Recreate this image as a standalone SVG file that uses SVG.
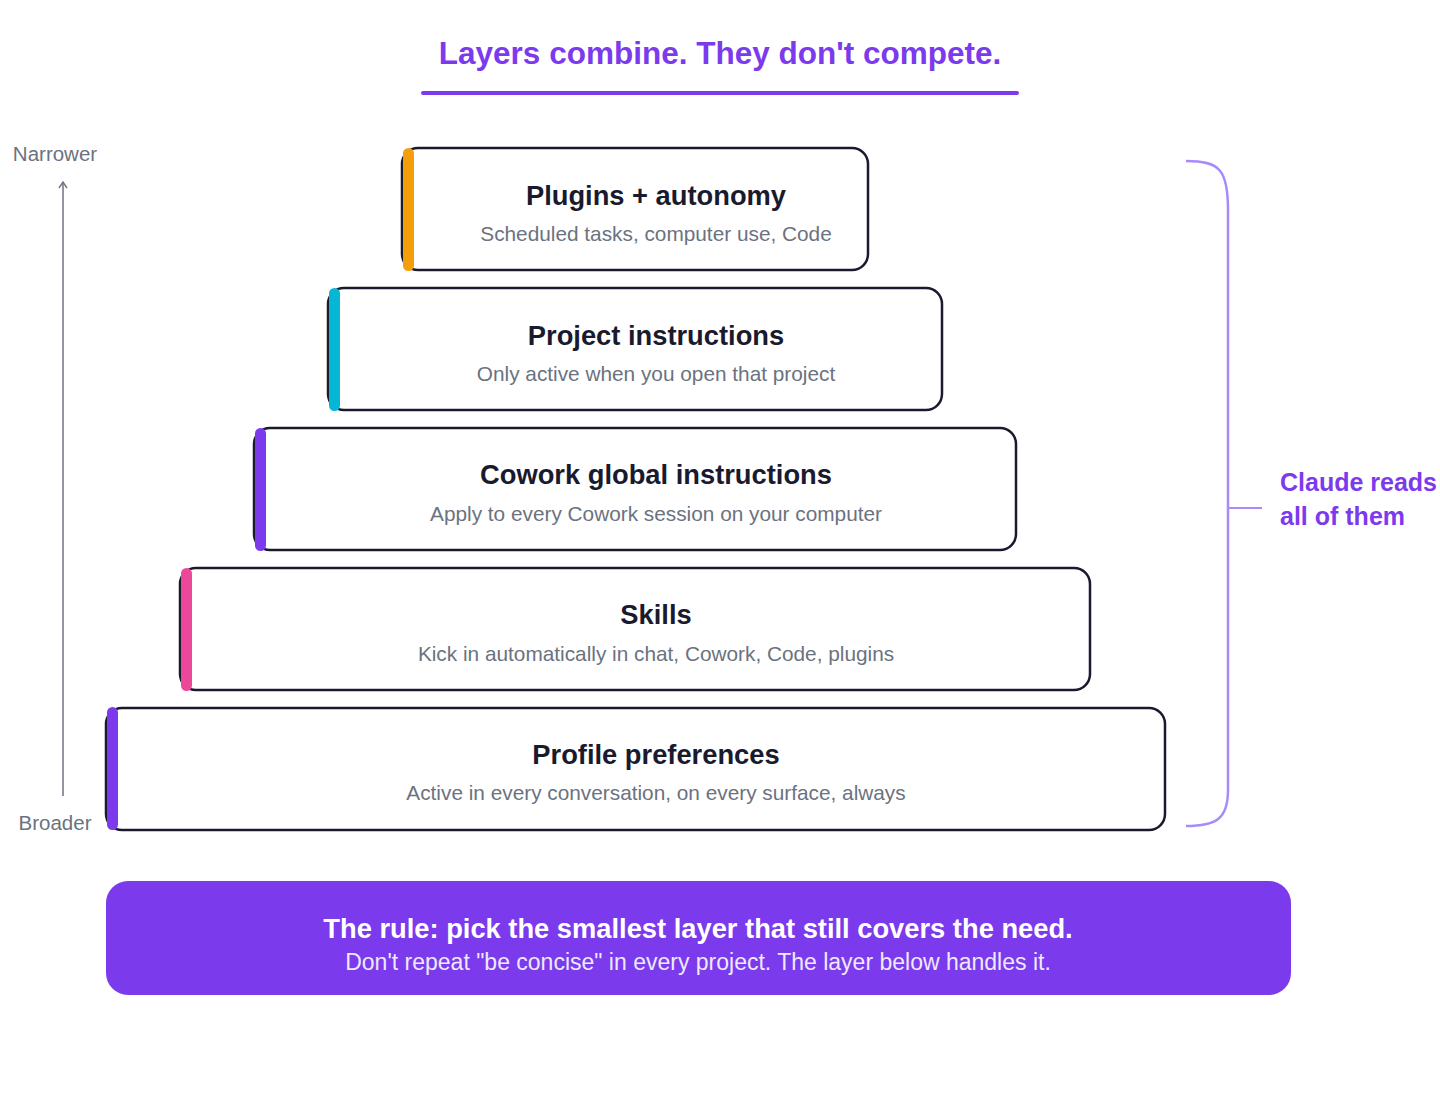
<svg xmlns="http://www.w3.org/2000/svg" width="1440" height="1102" viewBox="0 0 1440 1102">
<style>
.box{fill:#ffffff;stroke:#1a1a2e;stroke-width:2.5}
.t{font-family:"Liberation Sans",Arial,sans-serif;font-weight:bold;font-size:27.3px;fill:#1a1a2e;text-anchor:middle}
.s{font-family:"Liberation Sans",Arial,sans-serif;font-size:20.8px;fill:#6b7280;text-anchor:middle}
.ax{font-family:"Liberation Sans",Arial,sans-serif;font-size:20.5px;fill:#6b7280;text-anchor:middle}
.pl{font-family:"Liberation Sans",Arial,sans-serif;font-weight:bold;font-size:25px;fill:#7c3aed}
</style>
<rect width="1440" height="1102" fill="#ffffff"/>
<g id="title">
<text x="720" y="64" font-family="'Liberation Sans',Arial,sans-serif" font-weight="bold" font-size="31.5" fill="#7c3aed" text-anchor="middle">Layers combine. They don't compete.</text>
<line x1="423" y1="93" x2="1017" y2="93" stroke="#7c3aed" stroke-width="4" stroke-linecap="round"/>
</g>
<g id="connectors">
<line x1="63" y1="796" x2="63" y2="182" stroke="#6b7280" stroke-width="1.5"/>
<path d="M59,188 L63,182 L67,188" fill="none" stroke="#6b7280" stroke-width="1.4"/>
<path d="M1186,161 C1220,161 1228,170 1228,210 L1228,790 C1228,820 1215,826 1186,826" fill="none" stroke="#a78bfa" stroke-width="2.5"/>
<line x1="1228" y1="508" x2="1262" y2="508" stroke="#a78bfa" stroke-width="2"/>
</g>
<g id="axis-labels">
<text class="ax" x="55" y="161">Narrower</text>
<text class="ax" x="55" y="830">Broader</text>
</g>
<g id="layer-plugins">
<rect class="box" x="402" y="148" width="466" height="122" rx="16"/>
<rect x="403" y="148" width="11" height="123" rx="5.5" fill="#f59e0b"/>
<text class="t" x="656" y="205">Plugins + autonomy</text>
<text class="s" x="656" y="241">Scheduled tasks, computer use, Code</text>
</g>
<g id="layer-project">
<rect class="box" x="328" y="288" width="614" height="122" rx="16"/>
<rect x="329" y="288" width="11" height="123" rx="5.5" fill="#06b6d4"/>
<text class="t" x="656" y="345">Project instructions</text>
<text class="s" x="656" y="381">Only active when you open that project</text>
</g>
<g id="layer-cowork">
<rect class="box" x="254" y="428" width="762" height="122" rx="16"/>
<rect x="255" y="428" width="11" height="123" rx="5.5" fill="#7c3aed"/>
<text class="t" x="656" y="484">Cowork global instructions</text>
<text class="s" x="656" y="521">Apply to every Cowork session on your computer</text>
</g>
<g id="layer-skills">
<rect class="box" x="180" y="568" width="910" height="122" rx="16"/>
<rect x="181" y="568" width="11" height="123" rx="5.5" fill="#ec4899"/>
<text class="t" x="656" y="624">Skills</text>
<text class="s" x="656" y="661">Kick in automatically in chat, Cowork, Code, plugins</text>
</g>
<g id="layer-profile">
<rect class="box" x="106" y="708" width="1059" height="122" rx="16"/>
<rect x="107" y="707" width="11" height="123" rx="5.5" fill="#7c3aed"/>
<text class="t" x="656" y="764">Profile preferences</text>
<text class="s" x="656" y="800">Active in every conversation, on every surface, always</text>
</g>
<g id="claude-label">
<text class="pl" x="1280" y="491">Claude reads</text>
<text class="pl" x="1280" y="525">all of them</text>
</g>
<g id="rule">
<rect x="106" y="881" width="1185" height="114" rx="22" fill="#7c3aed"/>
<text x="698" y="938" font-family="'Liberation Sans',Arial,sans-serif" font-weight="bold" font-size="27.3" fill="#ffffff" text-anchor="middle">The rule: pick the smallest layer that still covers the need.</text>
<text x="698" y="970" font-family="'Liberation Sans',Arial,sans-serif" font-size="23" fill="#ede9fe" text-anchor="middle">Don't repeat "be concise" in every project. The layer below handles it.</text>
</g>
</svg>
